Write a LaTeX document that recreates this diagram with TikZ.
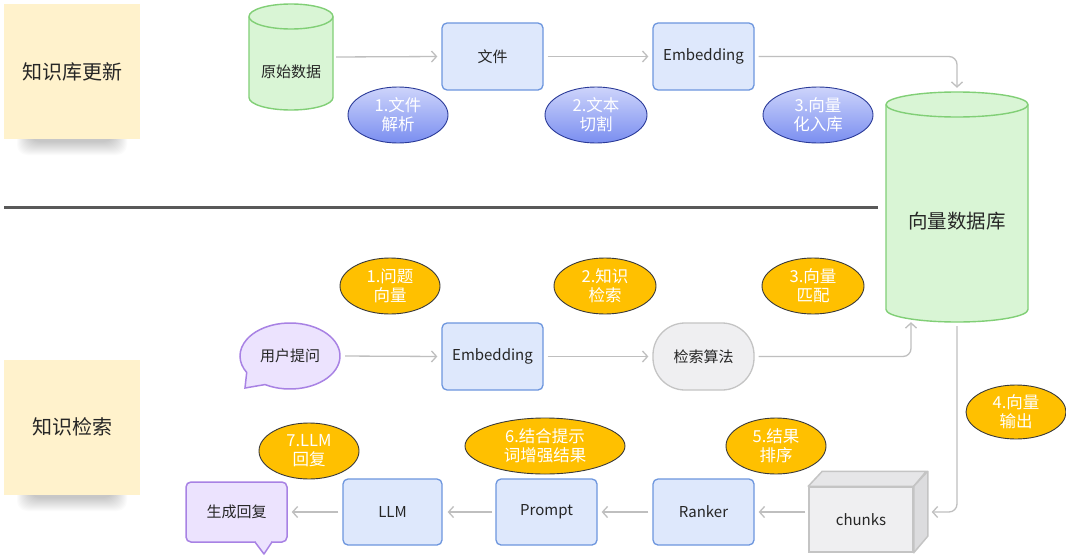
\documentclass[tikz,border=0pt]{standalone}
\usepackage{fontspec}
\setmainfont{Noto Sans CJK SC}
\usetikzlibrary{arrows.meta,shapes.geometric,calc}
\definecolor{textc}{HTML}{262626}
\definecolor{labfill}{HTML}{FFF2CC}
\definecolor{arrowc}{HTML}{BFBFBF}
\definecolor{boxfill}{HTML}{DEE8FC}
\definecolor{boxline}{HTML}{6D96DE}
\definecolor{cylfill}{HTML}{D9F5D5}
\definecolor{cylline}{HTML}{81CF76}
\definecolor{purfill}{HTML}{ECE3FE}
\definecolor{purline}{HTML}{A882E4}
\definecolor{grayfill}{HTML}{EFEFF1}
\definecolor{grayline}{HTML}{C4C4C4}
\definecolor{graytop}{HTML}{E6E6E8}
\definecolor{grayside}{HTML}{DCDCDE}
\definecolor{navy}{HTML}{2A3A98}
\definecolor{bluetop}{HTML}{CDD4FB}
\definecolor{bluebot}{HTML}{7A8EF0}
\definecolor{gold}{HTML}{FFC000}
\definecolor{ystroke}{HTML}{3A3A3A}
\definecolor{divc}{HTML}{595959}
\begin{document}
\begin{tikzpicture}[x=1pt,y=1pt,
  txt/.style={text=textc,font=\fontsize{15}{18}\selectfont},
  bbox/.style={draw=boxline,fill=boxfill,line width=1.3pt,rounded corners=5pt,
    minimum width=101pt,minimum height=67pt,inner sep=0pt,txt},
  flow/.style={draw=arrowc,line width=1.3pt,rounded corners=8pt,
    -{Straight Barb[length=5pt,width=11pt]},shorten <=4pt,shorten >=4pt},
  blueell/.style={ellipse,draw=navy,line width=0.9pt,top color=bluetop,bottom color=bluebot,
    text=white,font=\fontsize{16.5}{19}\selectfont,align=center,inner sep=0pt,minimum height=56pt},
  yell/.style={ellipse,draw=ystroke,line width=0.9pt,fill=gold,
    text=white,font=\fontsize{16.5}{19}\selectfont,align=center,inner sep=0pt,minimum height=56pt},
  labbox/.style={fill=labfill,minimum width=136pt,minimum height=135pt,inner sep=0pt,
    text=textc,font=\fontsize{20}{24}\selectfont},
  cylshape/.style={fill=cylfill,draw=cylline,line width=1.4pt}
]
\useasboundingbox (0,0) rectangle (1066,-557);
\fill[white] (0,0) rectangle (1066,-557);

% soft shadows under the label boxes
\foreach \i in {0,...,13}{
  \fill[black,opacity=0.016,rounded corners=10pt] (30-\i,-124+\i) rectangle (114+\i,-142-\i);
  \fill[black,opacity=0.016,rounded corners=10pt] (30-\i,-480+\i) rectangle (114+\i,-498-\i);
}

% labels
\node[labbox] (lab1) at (72,-71.5) {知识库更新};
\node[labbox] (lab2) at (72,-427) {知识检索};

% divider
\draw[divc,line width=3pt] (4,-207) -- (878,-207);

% small cylinder
\path[cylshape] (249,-16.5) -- (249,-97.5)
  arc[start angle=180,end angle=360,x radius=42,y radius=12.5] -- (333,-16.5)
  arc[start angle=0,end angle=180,x radius=42,y radius=12.5] -- cycle;
\draw[cylline,line width=1.4pt] (249,-16.5) arc[start angle=180,end angle=360,x radius=42,y radius=12.5];
\node[inner sep=0pt,minimum width=84pt,minimum height=106pt] (raw) at (291,-57) {};
\node[txt] (rawtxt) at (291,-72) {原始数据};

% big cylinder
\path[cylshape] (886,-104.5) -- (886,-309.5)
  arc[start angle=180,end angle=360,x radius=71,y radius=12.5] -- (1028,-104.5)
  arc[start angle=0,end angle=180,x radius=71,y radius=12.5] -- cycle;
\draw[cylline,line width=1.4pt] (886,-104.5) arc[start angle=180,end angle=360,x radius=71,y radius=12.5];
\node[inner sep=0pt,minimum width=142pt,minimum height=230pt] (db) at (957,-207) {};
\node[text=textc,font=\fontsize{19.5}{22}\selectfont] (dbtxt) at (957,-221) {向量数据库};

% top flow
\node[bbox] (file) at (492.5,-56.5) {文件};
\node[bbox,text depth=4pt] (emb1) at (703.5,-56.5) {Embedding};
\draw[flow,shorten <=3pt] (raw.east) -- (file.west);
\draw[flow] (file.east) -- (emb1.west);
\draw[flow] (emb1.east) -| (db.north);

\node[blueell,minimum width=100pt] (b1) at (398,-115) {1.文件\\解析};
\node[blueell,minimum width=102pt] (b2) at (596,-115) {2.文本\\切割};
\node[blueell,minimum width=110pt] (b3) at (818,-115) {3.向量\\化入库};

% ask bubble
\path[fill=purfill,draw=purline,line width=1.5pt]
  ($(290,-356)+(240:50 and 33)$) arc[start angle=240,end angle=570,x radius=50,y radius=33]
  -- (245,-388) -- cycle;
\node[ellipse,inner sep=0pt,minimum width=100pt,minimum height=66pt,txt] (ask) at (290,-356) {用户提问};

\node[bbox,text depth=4pt] (emb2) at (492.5,-356.5) {Embedding};
\node[draw=grayline,fill=grayfill,line width=1.3pt,rounded corners=32pt,
  minimum width=101pt,minimum height=67pt,inner sep=0pt,txt] (algo) at (703.5,-356.5) {检索算法};
\draw[flow,shorten <=5pt] (ask.east) -- (emb2.west);
\draw[flow] (emb2.east) -- (algo.west);
\draw[flow,shorten >=0pt] (algo.east) -| ([xshift=-46pt]db.south);

\node[yell,minimum width=100pt] (y1) at (390,-286) {1.问题\\向量};
\node[yell,minimum width=102pt] (y2) at (605,-286) {2.知识\\检索};
\node[yell,minimum width=102pt] (y3) at (813,-286) {3.向量\\匹配};
\node[yell,minimum width=100pt,minimum height=54pt] (y4) at (1016,-412) {4.向量\\输出};
\node[yell,minimum width=100pt] (y5) at (776,-446) {5.结果\\排序};
\node[yell,minimum width=160pt] (y6) at (545,-446) {6.结合提示\\词增强结果};
\node[yell,minimum width=100pt] (y7) at (309,-451) {7.LLM\\回复};

% bottom row
\node[draw=grayline,fill=grayfill,line width=1.5pt,minimum width=104pt,minimum height=65pt,
  inner sep=0pt,txt] (chunks) at (861,-519.5) {chunks};
\filldraw[draw=grayline,fill=graytop,line width=1.5pt,line join=round]
  (chunks.north west) -- ++(14,15) -- ++(104,0) -- (chunks.north east) -- cycle;
\filldraw[draw=grayline,fill=grayside,line width=1.5pt,line join=round]
  (chunks.north east) -- ++(14,15) -- ++(0,-65) -- (chunks.south east) -- cycle;
\coordinate (chunksR) at ([xshift=14pt,yshift=7.5pt]chunks.east);

\node[bbox,minimum height=66pt] (ranker) at (703.5,-512) {Ranker};
\node[bbox,minimum height=66pt,text depth=4pt] (prompt) at (546.5,-512) {Prompt};
\node[bbox,minimum width=99pt,minimum height=66pt] (llm) at (392.5,-512) {LLM};

\node[draw=purline,fill=purfill,line width=1.5pt,rounded corners=5pt,
  minimum width=101pt,minimum height=60pt,inner sep=0pt,txt] (reply) at (236.5,-512) {生成回复};
\fill[purfill] (255,-542) -- (264,-554) -- (272,-542) -- cycle;
\fill[purfill] (255.8,-540.5) rectangle (271.2,-543);
\draw[purline,line width=1.5pt,line join=round] (255,-542) -- (264,-554) -- (272,-542);

\draw[flow] (db.south) |- (chunksR);
\draw[flow,shorten <=3pt] (chunks.west |- ranker.east) -- (ranker.east);
\draw[flow] (ranker.west) -- (prompt.east);
\draw[flow,shorten <=3pt,shorten >=5pt] (prompt.west) -- (llm.east);
\draw[flow] (llm.west) -- (reply.east);
\end{tikzpicture}
\end{document}
